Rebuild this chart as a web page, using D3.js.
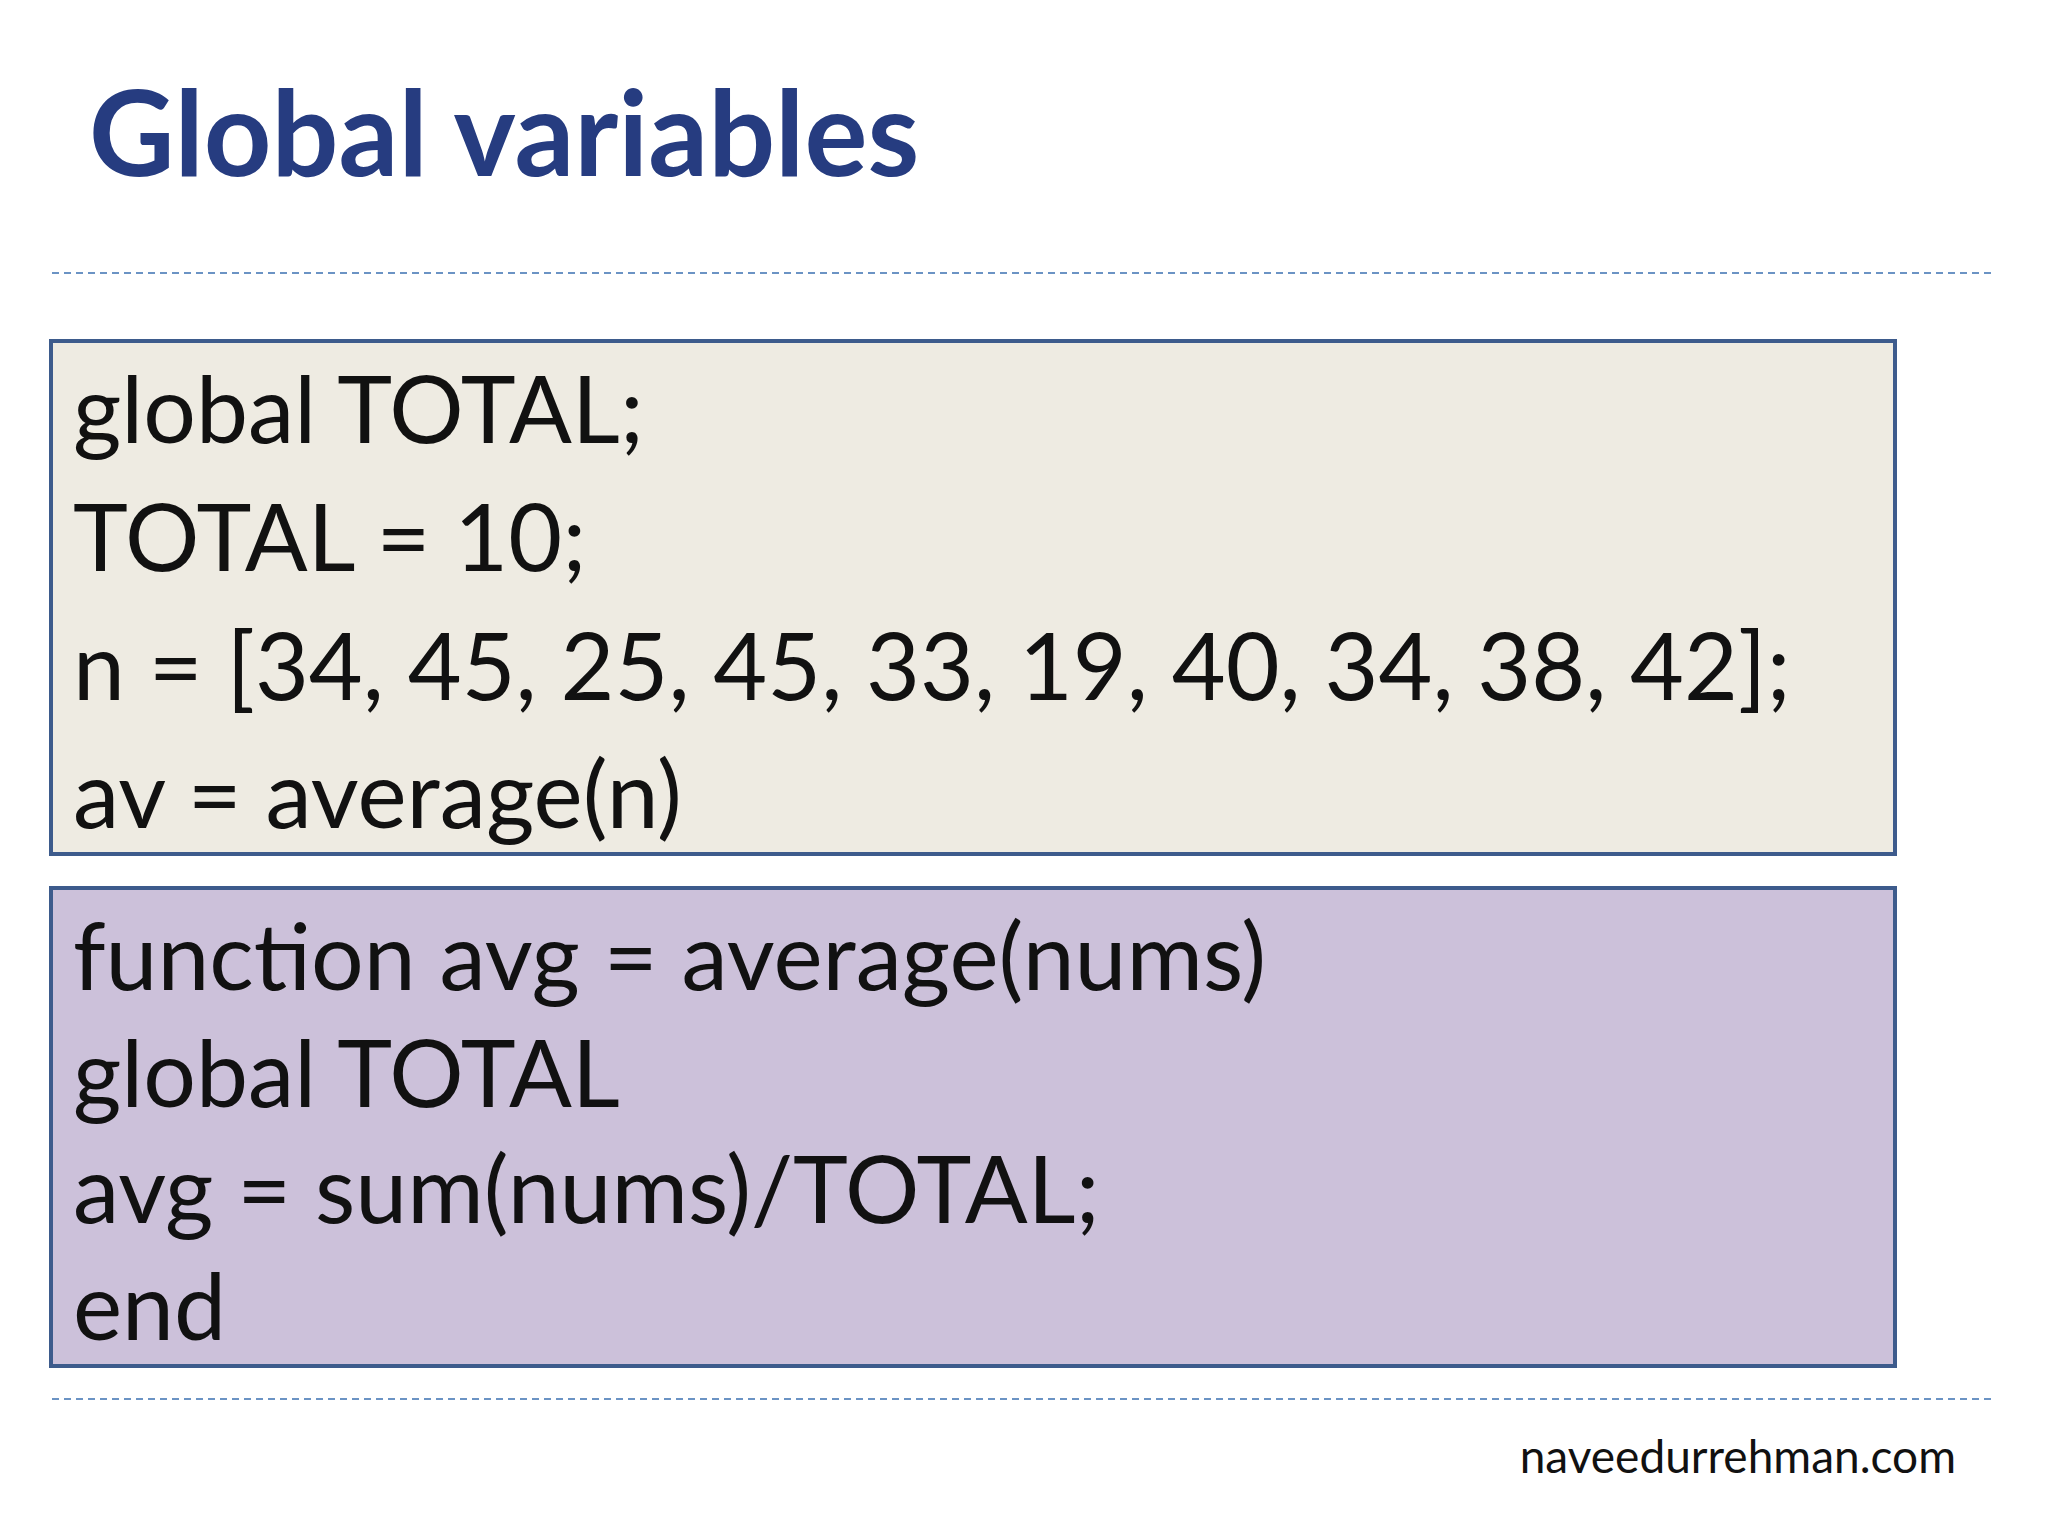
<!DOCTYPE html>
<html>
<head>
<meta charset="utf-8">
<script src="https://cdn.jsdelivr.net/npm/d3@7"></script>
<style>
body { margin: 0; background: #fff; }
</style>
</head>
<body>
<svg id="slide" width="2048" height="1536"></svg>
<script>
// slide text
var title = "Global variables",
scriptLines = ["global TOTAL;", "TOTAL = 10;", "n = [34, 45, 25, 45, 33, 19, 40, 34, 38, 42];", "av = average(n)"],
funcLines = ["function avg = average(nums)", "global TOTAL", "avg = sum(nums)/TOTAL;", "end"],
footer = "naveedurrehman.com";

var W = 2048, H = 1536,
font = "Lato, 'Open Sans', sans-serif";

var svg = d3.select("#slide");

svg.append("text")
	.attr("x", 89)
	.attr("y", 176)
	.attr("font-family", font)
	.attr("font-weight", "bold")
	.attr("font-size", 118)
	.attr("fill", "#263c80")
	.text(title);

[273, 1399].forEach(function(y) {
	svg.append("line")
		.attr("x1", 52).attr("x2", 1994)
		.attr("y1", y).attr("y2", y)
		.attr("stroke", "#6b93c4")
		.attr("stroke-width", 2)
		.attr("stroke-dasharray", "7,5");
});

var drawBox = function(lines, y0, y1, fill) {
	svg.append("rect")
		.attr("x", 51).attr("y", y0)
		.attr("width", 1844).attr("height", y1 - y0)
		.attr("fill", fill)
		.attr("stroke", "#3d5b8c")
		.attr("stroke-width", 4);
	var y = d3.scalePoint()
		.domain(d3.range(lines.length))
		.range([y0 + 102, y1 - 26]);
	svg.selectAll(null)
		.data(lines)
		.enter().append("text")
		.attr("x", 73)
		.attr("y", function(d, i) { return y(i); })
		.attr("font-family", font)
		.attr("font-size", 93)
		.attr("fill", "#111")
		.text(function(d) { return d; });
};

drawBox(scriptLines, 341, 854, "#eeebe2");
drawBox(funcLines, 888, 1366, "#ccc1da");

svg.append("text")
	.attr("x", 1956)
	.attr("y", 1473)
	.attr("text-anchor", "end")
	.attr("font-family", font)
	.attr("font-size", 46)
	.attr("fill", "#111")
	.text(footer);
</script>
</body>
</html>
